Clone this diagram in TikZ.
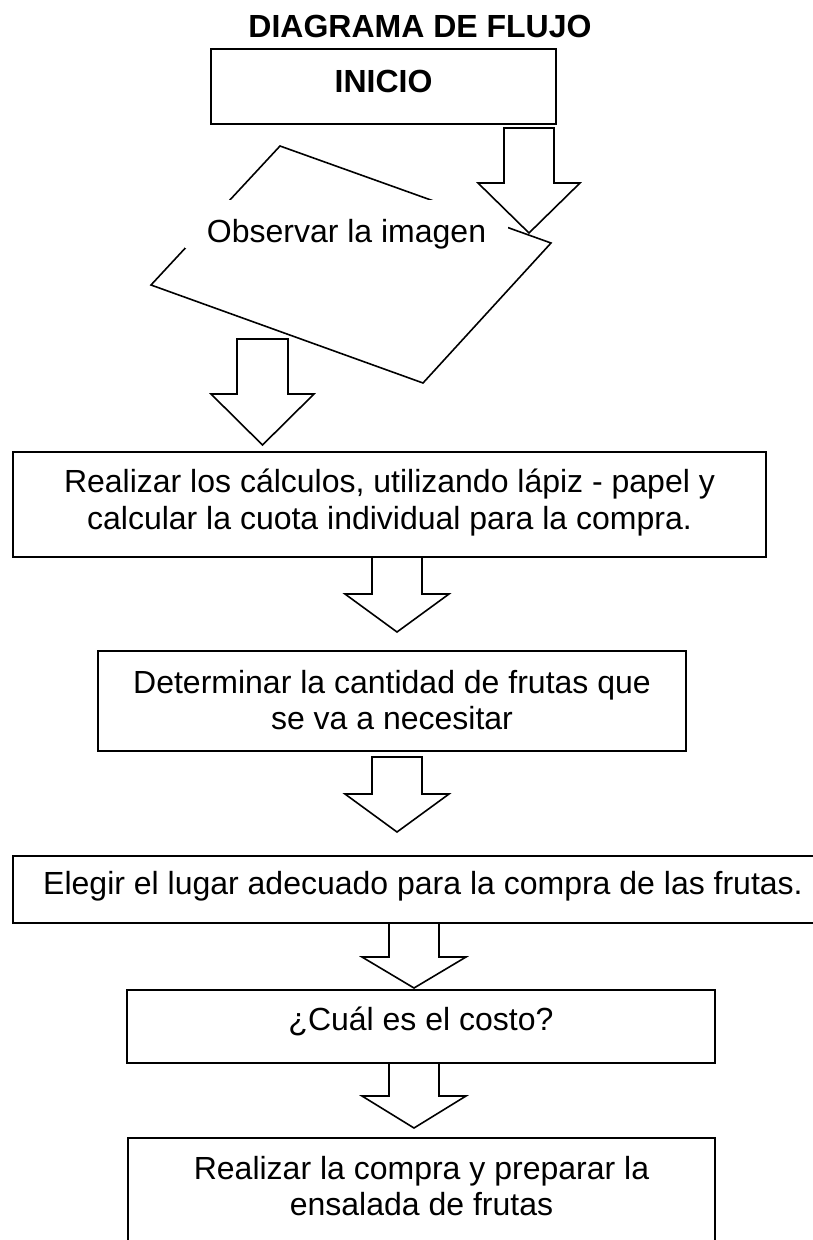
\documentclass[tikz,border=0pt]{standalone}
\usepackage{fontspec}
\setmainfont{Liberation Sans}
% #1 centre x, #2 top y, #3 shaft half width, #4 head half width, #5 neck y, #6 tip y
\newcommand\blkarrow[6]{%
  \draw[blockarrow] ({#1-#3},#2) -- ({#1+#3},#2) -- ({#1+#3},#5) -- ({#1+#4},#5)
    -- (#1,#6) -- ({#1-#4},#5) -- ({#1-#3},#5) -- cycle;}
\begin{document}
\begin{tikzpicture}[x=1pt,y=-1pt,
  box/.style={draw=black,line width=1.6pt,fill=white,inner sep=0pt},
  txt/.style={inner sep=0pt,anchor=base,font=\fontsize{32}{37}\selectfont},
  btxt/.style={txt,font=\fontsize{32}{37}\selectfont\bfseries},
  blockarrow/.style={draw=black,line width=1.6pt,fill=white,line join=miter}]
\useasboundingbox (0,0) rectangle (813,1240);
% title
\node[btxt] (title) at (420,37) {DIAGRAMA DE FLUJO};
% INICIO
\node[box,minimum width=345pt,minimum height=75pt] (inicio) at (383.5,86.5) {};
\node[btxt] (tinicio) at (383.5,92) {INICIO};
% parallelogram
\coordinate (pA) at (280,146);
\coordinate (pB) at (551,243);
\coordinate (pC) at (423,383);
\coordinate (pD) at (151,285);
\draw[box] (pA) -- (pB) -- (pC) -- (pD) -- cycle;
\node[fill=white,minimum width=323pt,minimum height=48pt,inner sep=0pt] (obsbg) at (346.5,224) {};
\node[txt] (tobs) at (346.5,242) {Observar la imagen};
% arrow 1 (INICIO -> Observar)
\blkarrow{529}{128}{25}{51}{183}{233}
% arrow 2 (Observar -> box 1)
\blkarrow{262.5}{339}{25.5}{51.5}{394}{445}
% box 1
\node[box,minimum width=753pt,minimum height=105pt] (b1) at (389.5,504.5) {};
\node[txt] (t1a) at (389.5,492) {Realizar los cálculos, utilizando lápiz - papel y};
\node[txt] (t1b) at (389.5,529) {calcular la cuota individual para la compra.};
% arrow 3
\blkarrow{397}{557}{25}{52}{594}{632}
% box 2
\node[box,minimum width=588pt,minimum height=100pt] (b2) at (392,701) {};
\node[txt] (t2a) at (392,693) {Determinar la cantidad de frutas que};
\node[txt] (t2b) at (392,729) {se va a necesitar};
% arrow 4
\blkarrow{397}{757}{25}{52}{794}{832}
% box 3
\node[box,minimum width=830pt,minimum height=67pt] (b3) at (428,889.5) {};
\node[txt] (t3) at (423,894) {Elegir el lugar adecuado para la compra de las frutas.};
% arrow 5
\blkarrow{414}{923}{25}{52}{957}{988}
% box 4
\node[box,minimum width=588pt,minimum height=73pt] (b4) at (421,1026.5) {};
\node[txt] (t4) at (421,1030) {¿Cuál es el costo?};
% arrow 6
\blkarrow{414}{1063}{25}{52}{1096}{1128}
% box 5
\node[box,minimum width=587pt,minimum height=110pt] (b5) at (421.5,1193) {};
\node[txt] (t5a) at (421.5,1179) {Realizar la compra y preparar la};
\node[txt] (t5b) at (421.5,1215) {ensalada de frutas};
\end{tikzpicture}
\end{document}
